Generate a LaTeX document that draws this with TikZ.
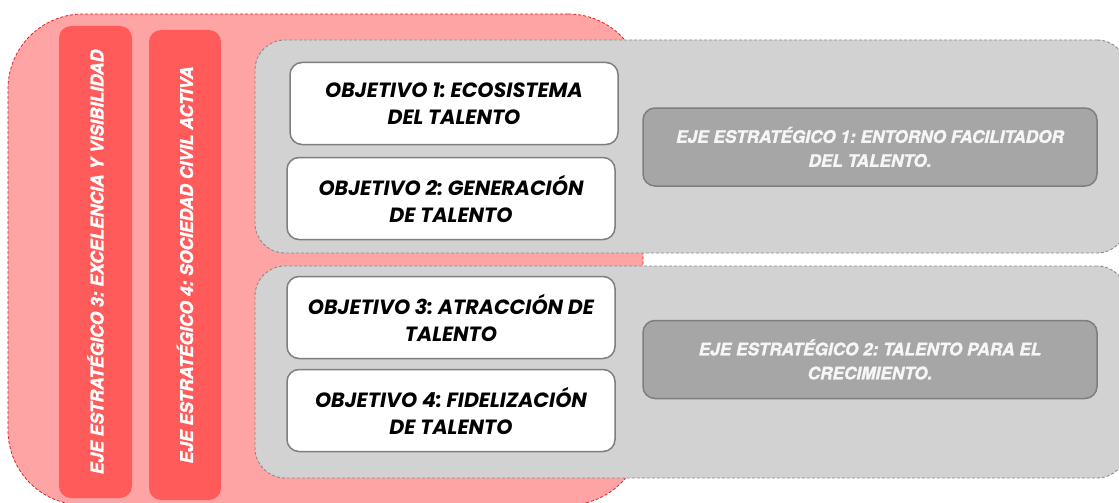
\documentclass[tikz,border=0pt]{standalone}
\usepackage{fontspec}
\setmainfont{TeX Gyre Heros}
\newfontfamily\objfont{Poppins}
\newfontfamily\ejefont{TeX Gyre Heros}[FakeBold=1.6]
\frenchspacing

\definecolor{rosa}{HTML}{FFA4A4}
\definecolor{rojo}{HTML}{FF5B5B}
\definecolor{rojoborde}{HTML}{E3202C}
\definecolor{grisclaro}{HTML}{D2D2D2}
\definecolor{grisborde}{HTML}{8A8A8A}
\definecolor{grisoscuro}{HTML}{A6A6A6}
\definecolor{grislinea}{HTML}{7E7E7E}
\definecolor{blancotexto}{HTML}{F6F6F6}

\begin{document}
\begin{tikzpicture}[
    x=1pt, y=-1pt,
    fondo/.style={rectangle, rounded corners=75pt, fill=rosa, draw=rojoborde,
                  dash pattern=on 3pt off 2pt, line width=0.8pt, inner sep=0pt},
    barra/.style={rectangle, rounded corners=12pt, fill=rojo, inner sep=0pt,
                  text=white, rotate=90, font=\ejefont\fontsize{17.5}{22}\selectfont\bfseries\itshape},
    bloque/.style={rectangle, rounded corners=30pt, fill=grisclaro, draw=grisborde,
                   dash pattern=on 3pt off 2pt, line width=0.9pt, inner sep=0pt},
    objetivo/.style={rectangle, rounded corners=12pt, fill=white, draw=grislinea,
                     line width=1.5pt, align=center, inner sep=0pt,
                     minimum width=328pt, minimum height=82pt,
                     font=\objfont\fontsize{20.6}{27}\selectfont\bfseries\itshape},
    eje/.style={rectangle, rounded corners=12pt, fill=grisoscuro, draw=grislinea,
                line width=1.5pt, align=center, inner sep=0pt, text=blancotexto,
                minimum width=454pt, minimum height=78pt,
                font=\ejefont\fontsize{17.2}{24}\selectfont\bfseries\itshape},
]
  \useasboundingbox (0,0) rectangle (1119,503);

  % fondo rojo y ejes transversales
  \node [fondo, minimum width=635pt, minimum height=491pt] (transversal) at (325.5,259.5) {};
  \node [barra, minimum width=472pt, minimum height=73pt] (eje3) at (95.5,262)
        {EJE ESTRATÉGICO 3: EXCELENCIA Y VISIBILIDAD};
  \node [barra, minimum width=470pt, minimum height=72pt] (eje4) at (185,265)
        {EJE ESTRATÉGICO 4: SOCIEDAD CIVIL ACTIVA};

  % bloques grises
  \node [bloque, minimum width=872pt, minimum height=213pt] (bloque1) at (691,146.5) {};
  \node [bloque, minimum width=872pt, minimum height=212pt] (bloque2) at (691,372) {};

  % objetivos
  \node [objetivo] (obj1) at (454,103.5) {OBJETIVO 1: ECOSISTEMA\\DEL TALENTO};
  \node [objetivo] (obj2) at (451,198.5) {OBJETIVO 2: GENERACIÓN\\DE TALENTO};
  \node [objetivo] (obj3) at (451,317.5) {OBJETIVO 3: ATRACCIÓN DE\\TALENTO};
  \node [objetivo] (obj4) at (451,410.5) {OBJETIVO 4: FIDELIZACIÓN\\DE TALENTO};

  % ejes estrategicos
  \node [eje] (eje1) at (870,147)   {EJE ESTRATÉGICO 1: ENTORNO FACILITADOR\\DEL TALENTO.};
  \node [eje] (eje2) at (870,359.5) {EJE ESTRATÉGICO 2: TALENTO PARA EL\\CRECIMIENTO.};
\end{tikzpicture}
\end{document}
